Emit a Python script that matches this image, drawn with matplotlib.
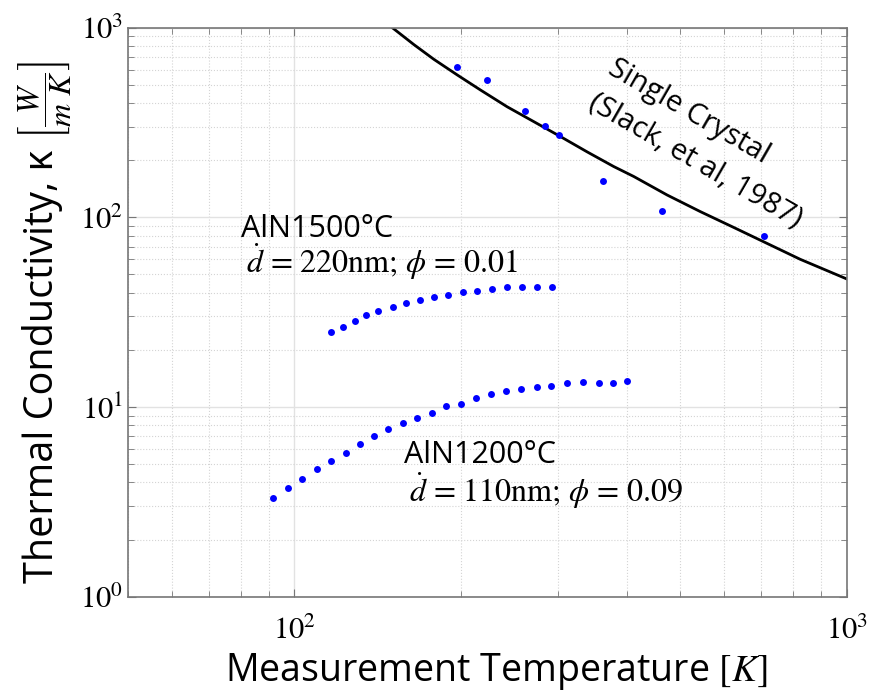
import math
import matplotlib
matplotlib.use("Agg")
import matplotlib.pyplot as plt
from matplotlib import ticker as mtick

plt.rcParams['mathtext.fontset'] = 'stix'
plt.rcParams['font.family'] = ['Open Sans', 'DejaVu Sans']

# Slack et al. (1987) single crystal AlN, fitted curve and measured points
sc_curve_T = [150.0, 164.7, 178.9, 197.3, 217.4, 242.9, 271.4, 303.4, 339.0,
              378.7, 411.6, 473.0, 543.5, 624.2, 717.4, 824.1, 1000.0]
sc_curve_k = [1005.0, 812.0, 680.0, 562.0, 468.0, 382.0, 319.0, 266.0, 221.0,
              185.0, 164.0, 131.0, 107.0, 88.4, 72.8, 60.0, 47.3]
sc_pts_T = [197.3, 222.9, 261.5, 283.8, 302.0, 362.4, 462.6, 707.0]
sc_pts_k = [616.0, 527.0, 364.0, 302.0, 270.0, 155.0, 107.8, 79.9]

# AlN sintered at 1500 C
aln1500_T = [116.4, 122.5, 128.7, 135.1, 142.0, 150.7, 159.1, 168.6, 178.9,
             189.6, 201.7, 214.5, 227.6, 242.9, 258.6, 274.5, 293.0]
aln1500_k = [24.9, 26.5, 28.4, 30.4, 31.9, 33.7, 35.4, 36.6, 38.1,
             39.0, 40.2, 40.8, 41.7, 42.7, 43.0, 43.0, 43.0]

# AlN sintered at 1200 C
aln1200_T = [91.7, 97.4, 103.3, 109.9, 116.7, 123.9, 131.5, 139.4, 148.0,
             157.3, 166.8, 177.3, 188.5, 200.3, 213.2, 227.0, 241.5, 257.1,
             274.5, 292.1, 312.3, 333.4, 355.9, 377.8, 400.5]
aln1200_k = [3.30, 3.72, 4.17, 4.71, 5.19, 5.74, 6.35, 7.00, 7.62,
             8.19, 8.77, 9.29, 10.1, 10.4, 11.2, 11.7, 12.1, 12.4,
             12.7, 12.9, 13.3, 13.5, 13.4, 13.4, 13.7]

fig = plt.figure(figsize=(8.7, 6.91), dpi=100)
ax = fig.add_axes([0.1471, 0.1365, 0.8261, 0.8237])

ax.plot(sc_curve_T, sc_curve_k, color='black', lw=2)
ax.plot(sc_pts_T, sc_pts_k, 'o', color='#0000ff', ms=5, mec='none')
ax.plot(aln1500_T, aln1500_k, 'o', color='#0000ff', ms=5, mec='none')
ax.plot(aln1200_T, aln1200_k, 'o', color='#0000ff', ms=5, mec='none')

ax.set_xscale('log')
ax.set_yscale('log')
ax.set_xlim(50, 1000)
ax.set_ylim(1, 1000)

decade = mtick.FuncFormatter(lambda v, pos: r'$10^{%d}$' % round(math.log10(v)))
ax.xaxis.set_major_locator(mtick.LogLocator(base=10))
ax.yaxis.set_major_locator(mtick.LogLocator(base=10))
ax.xaxis.set_major_formatter(decade)
ax.yaxis.set_major_formatter(decade)
ax.xaxis.set_minor_formatter(mtick.NullFormatter())
ax.yaxis.set_minor_formatter(mtick.NullFormatter())

ax.grid(which='major', color='#e2e2e2', lw=1, ls='-')
ax.grid(which='minor', color='#d4d4d4', lw=0.8, ls=':')
ax.set_axisbelow(True)

for sp in ax.spines.values():
    sp.set_color('#777777')
    sp.set_linewidth(1.2)
ax.tick_params(which='both', direction='in', top=True, right=True, colors='#777777',
               labelcolor='black', labelsize=22)
ax.tick_params(which='major', length=6)
ax.tick_params(which='minor', length=4)
ax.tick_params(axis='x', pad=14)

ax.set_xlabel(r'Measurement Temperature $[K]$', fontsize=27)
ax.xaxis.set_label_coords(0.513, -0.095)

# y label: words as the axis label, units bracket as a separate figure text
ax.set_ylabel('Thermal Conductivity, κ', fontsize=28.5)
ax.yaxis.set_label_coords(-0.091, 0.405)
fig.text(45 / 870, 1 - 100 / 691, r'$\left[\dfrac{W}{m\ K}\right]$', fontsize=23,
         rotation=90, ha='center', va='center', rotation_mode='anchor')

ax.text(80.1, 78.9, 'AlN1500°C', fontsize=22, ha='left', va='baseline')
ax.text(81.7, 51.0, r'$\dot{d}$ = 220nm; $\phi$ = 0.01', fontsize=23,
        ha='left', va='baseline', family='STIXGeneral')
ax.text(157.8, 5.06, 'AlN1200°C', fontsize=22, ha='left', va='baseline')
ax.text(161.1, 3.16, r'$\dot{d}$ = 110nm; $\phi$ = 0.09', fontsize=23,
        ha='left', va='baseline', family='STIXGeneral')
ax.text(555, 243, 'Single Crystal\n(Slack, et al, 1987)', fontsize=21,
        ha='center', va='center', rotation=-30, rotation_mode='anchor',
        multialignment='left', linespacing=1.45)

fig.savefig('out.png', dpi=100)
